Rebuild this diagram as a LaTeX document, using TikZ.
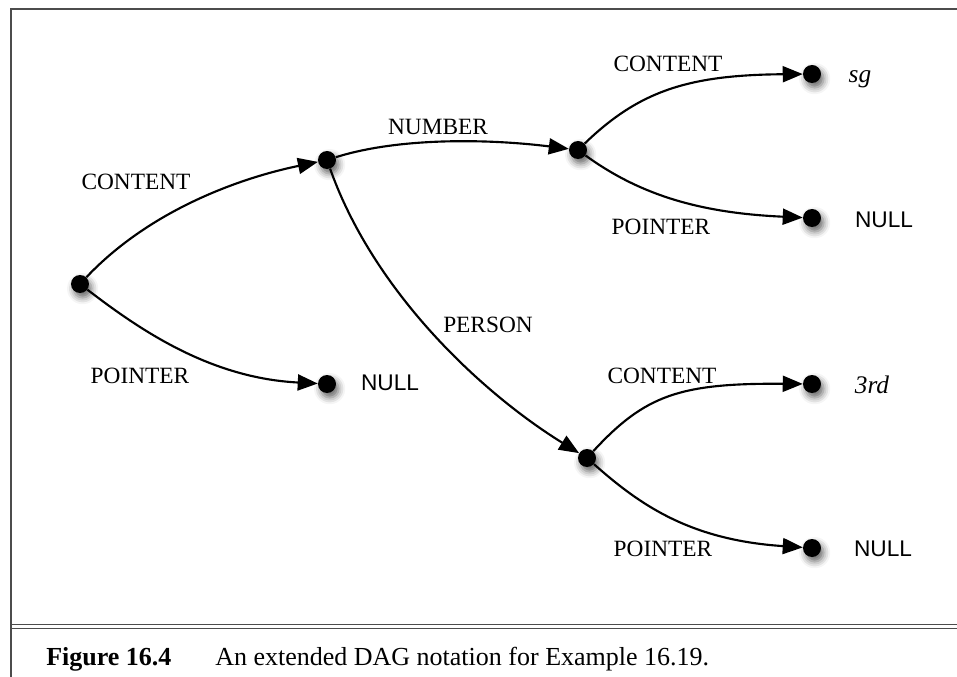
\documentclass[tikz,border=0pt]{standalone}
\usepackage{fontspec}
\setmainfont{Liberation Serif}
\newfontfamily\myhelv{Liberation Sans}
\usetikzlibrary{arrows.meta,shadows.blur}
\begin{document}
\begin{tikzpicture}[x=0.75pt,y=-0.75pt,
  dotnode/.style={circle,fill=black,inner sep=0pt,minimum size=13.5pt,
    blur shadow={shadow xshift=2pt,shadow yshift=-3.5pt,shadow blur radius=5pt,shadow opacity=60}},
  conn/.style={line width=1.6pt,-{Triangle[length=15pt,width=12pt]}},
  lab/.style={anchor=base,inner sep=0pt,font=\fontsize{17.5}{20}\selectfont},
  nul/.style={anchor=base,inner sep=0pt,font=\myhelv\fontsize{17}{20}\selectfont},
  val/.style={anchor=base,inner sep=0pt,font=\itshape\fontsize{19}{22}\selectfont},
  framestyle/.style={draw=black!70,line width=1.2pt},
  captext/.style={anchor=base west,inner sep=0pt,font=\fontsize{19.5}{22}\selectfont}]
\useasboundingbox (0,0) rectangle (957,677);
% frame
\coordinate (tl) at (11,9);
\coordinate (tr) at (957,9);
\coordinate (bl) at (11,677);
\coordinate (d1l) at (11,624.5);
\coordinate (d1r) at (957,624.5);
\coordinate (d2l) at (11,628.5);
\coordinate (d2r) at (957,628.5);
\draw[framestyle] (tr) -- (tl) -- (bl);
\draw[framestyle,line width=1pt] (d1l) -- (d1r);
\draw[framestyle,line width=1pt] (d2l) -- (d2r);
% nodes
\node[dotnode] (A) at (80,284) {};
\node[dotnode] (B) at (327,160) {};
\node[dotnode] (C) at (578,150) {};
\node[dotnode] (D) at (587,458) {};
\node[dotnode] (N0) at (327,384) {};
\node[dotnode] (SG) at (812,74) {};
\node[dotnode] (N1) at (812,218) {};
\node[dotnode] (TR) at (812,384) {};
\node[dotnode] (N2) at (812,548) {};
% edges
\draw[conn] (A) .. controls (150,210) and (240,178) .. (B);
\draw[conn] (A) .. controls (140,330) and (210,378) .. (N0);
\draw[conn] (B) .. controls (400,137) and (490,139) .. (C);
\draw[conn] (B) .. controls (375,295) and (485,395) .. (D);
\draw[conn] (C) .. controls (640,90) and (690,75) .. (SG);
\draw[conn] (C) .. controls (640,195) and (700,213) .. (N1);
\draw[conn] (D) .. controls (645,395) and (680,383) .. (TR);
\draw[conn] (D) .. controls (640,505) and (690,540) .. (N2);
% edge labels
\node[lab] (l1) at (136,190) {CONTENT};
\node[lab] (l2) at (140,383) {POINTER};
\node[lab] (l3) at (438,135) {NUMBER};
\node[lab] (l4) at (488,333) {PERSON};
\node[lab] (l5) at (668,72) {CONTENT};
\node[lab] (l6) at (661,235) {POINTER};
\node[lab] (l7) at (662,383) {CONTENT};
\node[lab] (l8) at (663,556) {POINTER};
% value labels
\node[val] (v1) at (860,83) {sg};
\node[val] (v2) at (872,393) {3rd};
\node[nul] (v3) at (390,391) {NULL};
\node[nul] (v4) at (884,228) {NULL};
\node[nul] (v5) at (883,556) {NULL};
% caption
\node[captext] (c1) at (46,665) {\bfseries Figure 16.4};
\node[captext] (c2) at (215,665) {An extended DAG notation for Example 16.19.};
\end{tikzpicture}
\end{document}
